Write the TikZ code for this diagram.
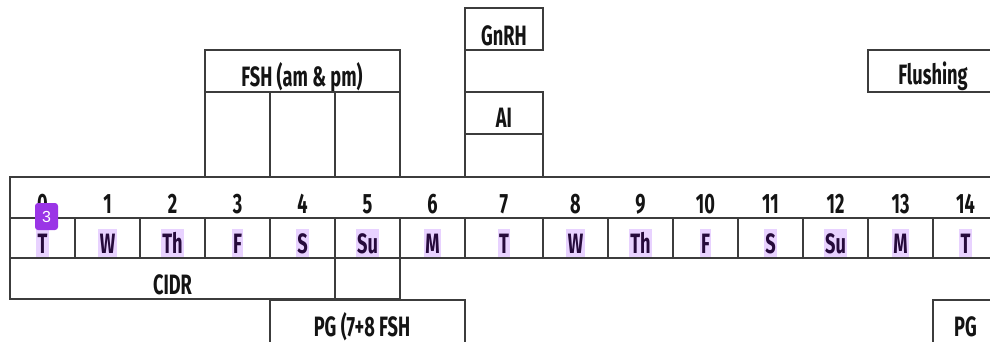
\documentclass[tikz,border=0pt]{standalone}
\usepackage{fontspec}
\setmainfont{Fira Sans}[FakeStretch=0.65]
\newfontfamily\badgefont{Liberation Sans}
\definecolor{linecol}{HTML}{3C3C3C}
\definecolor{hlfill}{HTML}{E8D2FF}
\definecolor{daytext}{HTML}{260A3C}
\definecolor{badgecol}{HTML}{9A35E6}
\begin{document}
\begin{tikzpicture}[x=1pt,y=-1pt,
  box/.style={draw=linecol, line width=1.2pt, inner sep=0pt, outer sep=0pt, anchor=north west},
  lbl/.style={font=\fontsize{28}{32}\selectfont\bfseries, text=black!92, inner sep=0pt, anchor=base},
  daylbl/.style={lbl, text=daytext, fill=hlfill, inner xsep=1.5pt, text height=24pt, text depth=4pt},
  badgebox/.style={fill=badgecol, rounded corners=3pt, minimum width=23pt, minimum height=27pt,
    inner sep=0pt, text=white, font=\badgefont\fontsize{16}{16}\selectfont}]
\useasboundingbox (0,0) rectangle (990,341);
\clip (0,0) rectangle (990,341);

% follicle stimulation block with its three daily columns
\node[box, minimum width=195pt, minimum height=42pt] (fsh) at (205,50) {};
\node[lbl] (fshtxt) at (302,86) {FSH (am \& pm)};
\foreach \k/\l in {1/205,2/270,3/335}
  \node[box, minimum width=65pt, minimum height=85pt] (fsc\k) at (\l,92) {};

% GnRH, insemination and the stem down to day 7
\node[box, minimum width=78pt, minimum height=42pt] (gnrh) at (465,8) {};
\node[lbl] (gnrhtxt) at (504,45) {GnRH};
\node[box, minimum width=78pt, minimum height=42pt] (ai) at (465,92) {};
\node[lbl] (aitxt) at (504,127) {AI};
\node[box, minimum width=78pt, minimum height=43pt] (aistem) at (465,134) {};
\draw[draw=linecol, line width=1.2pt] (gnrh.south west) -- (ai.north west);

% flushing
\node[box, minimum width=130pt, minimum height=42pt] (flush) at (868,50) {};
\node[lbl] (flushtxt) at (933,84) {Flushing};

% day-number strip
\node[box, line width=1.8pt, minimum width=990pt, minimum height=41pt] (numrow) at (10,177) {};

% day numbers and weekdays
\foreach \i/\l/\r/\d in {0/10/75/T,1/75/140/W,2/140/205/Th,3/205/270/F,4/270/335/S,
    5/335/400/Su,6/400/465/M,7/465/543/T,8/543/608/W,9/608/673/Th,10/673/738/F,
    11/738/803/S,12/803/868/Su,13/868/933/M,14/933/998/T}{
  \node[box, minimum width={(\r-\l)*1pt}, minimum height=40pt] (dc\i) at (\l,218) {};
  \node[lbl] (n\i) at ({(\l+\r)/2},213) {\i};
  \node[daylbl] (w\i) at ({(\l+\r)/2},253) {\d};
}

% CIDR row
\node[box, minimum width=325pt, minimum height=41pt] (cidr) at (10,258) {};
\node[lbl] (cidrtxt) at (172.5,294) {CIDR};
\node[box, minimum width=65pt, minimum height=41pt] (cidrend) at (335,258) {};

% progesterone blocks
\node[box, minimum width=195pt, minimum height=60pt] (pga) at (270,300) {};
\node[lbl] (pgatxt) at (362,336) {PG (7+8 FSH};
\node[box, minimum width=65pt, minimum height=60pt] (pgb) at (933,300) {};
\node[lbl] (pgbtxt) at (965.5,336) {PG};

% numbered marker
\node[badgebox] (badge) at (46.5,216.5) {3};
\end{tikzpicture}
\end{document}
